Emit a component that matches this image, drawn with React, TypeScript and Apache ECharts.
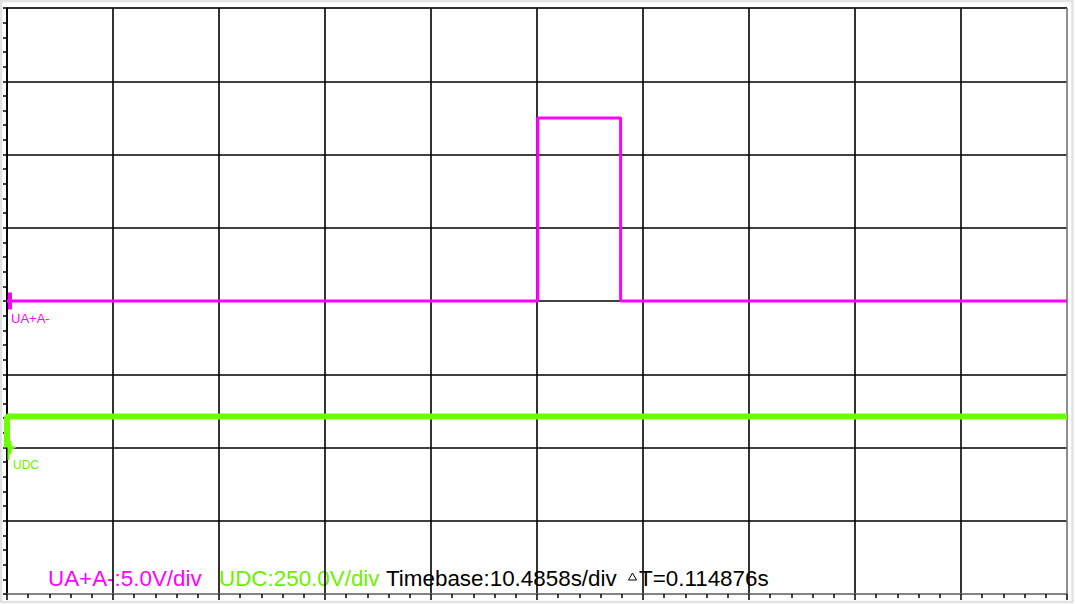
import React, { useEffect, useRef } from "react";
import * as echarts from "echarts";

// Time base (s/div) and channel scales (V/div)
const timebase = 10.4858;
const uaScale = 5.0;
const udcScale = 250.0;
const uaGroundDiv = 0; // ground marker position (divisions from centre)
const udcGroundDiv = -2;

// UA+A- trace: [time s, volts]
const uaTimes = [0, 52.5, 52.5, 60.7, 60.7, 104.858];
const uaValues = [0, 0, 12.5, 12.5, 0, 0];

// UDC trace: [time s, volts]
const udcTimes = [0, 0, 104.858];
const udcValues = [0, 106, 106];

const bottomLabels = [
  { text: "UA+A-:5.0V/div", color: "#ff00ff" },
  { text: "UDC:250.0V/div", color: "#6cf000" },
  { text: "Timebase:10.4858s/div", color: "#000000" },
];
const deltaT = "T=0.114876s";

export default function App() {
  const ref = useRef<HTMLDivElement>(null);
  useEffect(() => {
    if (!ref.current) return;
    const chart = echarts.init(ref.current, undefined, { renderer: "svg" });
    const xLines = Array.from({ length: 11 }, (_, i) => (i === 10 ? "#808080" : "#000000"));
    const yLines = Array.from({ length: 9 }, (_, i) => (i === 0 ? "#808080" : "#000000"));
    const uaData = uaTimes.map((t, i) => [t, uaValues[i]]);
    const udcData = udcTimes.map((t, i) => [t, udcValues[i]]);
    const font = "Liberation Sans, Arial, sans-serif";
    const labelXs = [48, 219, 386];
    chart.setOption({
      animation: false,
      backgroundColor: "#ffffff",
      grid: {
        left: 7,
        top: 8,
        width: 1060,
        height: 586,
        show: true,
        borderColor: "#808080",
        borderWidth: 1,
      },
      xAxis: {
        type: "value",
        min: 0,
        max: timebase * 10,
        interval: timebase,
        axisLine: { show: true, onZero: false, lineStyle: { color: "#808080", width: 1.5 } },
        axisTick: { show: true, length: 6, lineStyle: { color: "#000", width: 1.5 } },
        minorTick: { show: true, splitNumber: 5, length: 4, lineStyle: { color: "#000", width: 1.5 } },
        axisLabel: { show: false },
        splitLine: { show: true, lineStyle: { color: xLines, width: 1.6 } },
      },
      yAxis: [
        {
          type: "value",
          min: (-4 - uaGroundDiv) * uaScale,
          max: (4 - uaGroundDiv) * uaScale,
          interval: uaScale,
          axisLine: { show: true, onZero: false, lineStyle: { color: "#000", width: 1.6 } },
          axisTick: { show: true, length: 4, lineStyle: { color: "#000", width: 1.5 } },
          minorTick: { show: true, splitNumber: 5, length: 4, lineStyle: { color: "#000", width: 1.5 } },
          axisLabel: { show: false },
          splitLine: { show: true, lineStyle: { color: yLines, width: 1.6 } },
        },
        {
          type: "value",
          min: (-4 - udcGroundDiv) * udcScale,
          max: (4 - udcGroundDiv) * udcScale,
          interval: udcScale,
          position: "left",
          show: false,
          splitLine: { show: false },
        },
      ],
      series: [
        {
          type: "line",
          name: "UDC",
          yAxisIndex: 1,
          data: udcData,
          showSymbol: false,
          lineStyle: { color: "#6cff00", width: 6 },
          itemStyle: { color: "#6cff00" },
          silent: true,
          z: 3,
          markPoint: {
            silent: true,
            symbol: "path://M0,0 L2,0 L2,5 L4,6 L4,10 L9,12 L4,14 L4,18 L2,19 L2,24 L0,24 Z",
            symbolSize: [9, 25],
            symbolOffset: [5, 0],
            label: { show: false },
            itemStyle: { color: "#6cff00" },
            data: [{ coord: [0, 0] }],
          },
        },
        {
          type: "line",
          name: "UA+A-",
          yAxisIndex: 0,
          data: uaData,
          showSymbol: false,
          lineStyle: { color: "#ff00ff", width: 3 },
          itemStyle: { color: "#ff00ff" },
          silent: true,
          z: 4,
          markPoint: {
            silent: true,
            symbol: "rect",
            symbolSize: [4, 17],
            symbolOffset: [3, 0],
            label: { show: false },
            itemStyle: { color: "#ff00ff" },
            data: [{ coord: [0, 0] }],
          },
        },
      ],
      graphic: [
        {
          type: "rect",
          silent: true,
          z: -10,
          shape: { x: 1, y: 1, width: 1071.5, height: 601 },
          style: { fill: "none", stroke: "#e2e2e2", lineWidth: 2.5 },
        },
        {
          type: "text",
          x: 11,
          y: 318,
          style: { text: "UA+A-", fill: "#ff00ff", font: `13px ${font}`, verticalAlign: "middle" },
        },
        {
          type: "text",
          x: 13,
          y: 465,
          style: { text: "UDC", fill: "#6cf000", font: `12px ${font}`, verticalAlign: "middle" },
        },
        ...bottomLabels.map((l, i) => ({
          type: "text",
          x: labelXs[i],
          y: 578,
          style: { text: l.text, fill: l.color, font: `22.4px ${font}`, verticalAlign: "middle" },
        })),
        {
          type: "polygon",
          shape: { points: [[632.5, 573], [628.5, 580], [636.5, 580]] },
          style: { fill: "none", stroke: "#000", lineWidth: 1 },
        },
        {
          type: "text",
          x: 639,
          y: 578,
          style: { text: deltaT, fill: "#000", font: `22.4px ${font}`, verticalAlign: "middle" },
        },
      ],
    });
    return () => chart.dispose();
  }, []);
  return (
    <div
      style={{ position: "fixed", left: 0, top: 0, width: 1075, height: 604, background: "#fff" }}
    >
      <div ref={ref} style={{ width: 1075, height: 604 }} />
    </div>
  );
}
